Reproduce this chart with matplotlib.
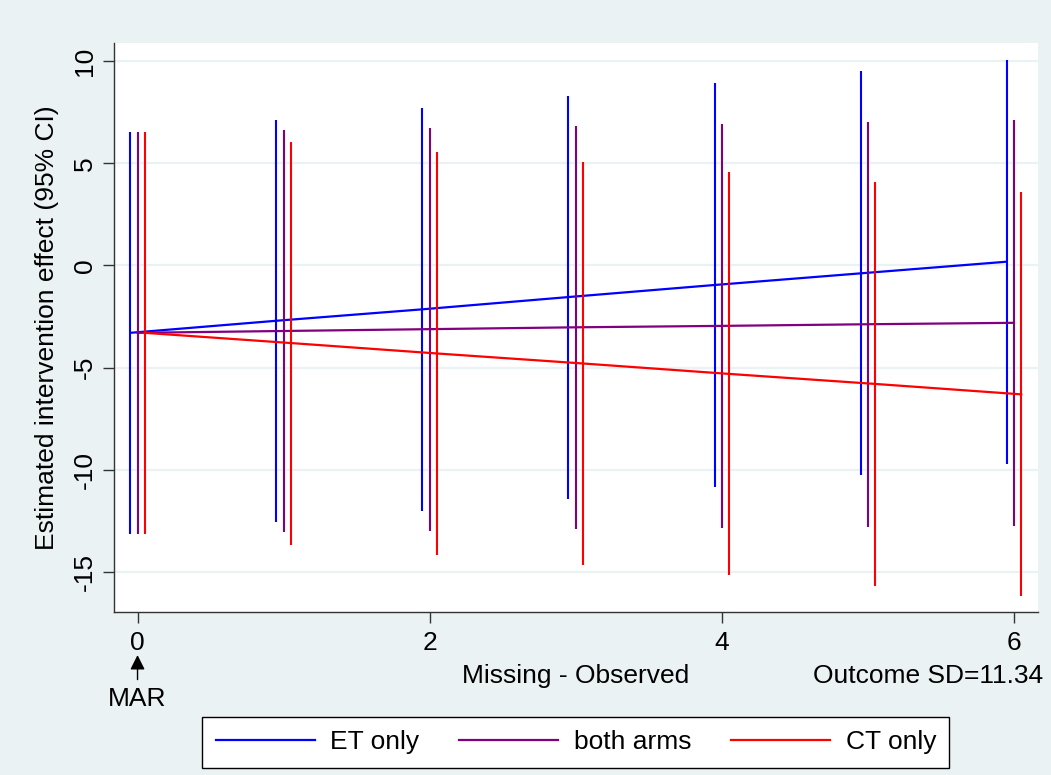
import numpy as np
import matplotlib.pyplot as plt

plt.rcParams['font.family'] = ['Liberation Sans', 'DejaVu Sans']

# difference missing - observed
delta = np.array([0, 1, 2, 3, 4, 5, 6])

# estimates and 95% CI per scenario
et_est = np.array([-3.30, -2.71, -2.15, -1.55, -0.96, -0.39, 0.18])
et_lo = np.array([-13.16, -12.55, -12.00, -11.41, -10.82, -10.27, -9.70])
et_hi = np.array([6.55, 7.13, 7.70, 8.30, 8.90, 9.49, 10.07])

both_est = np.array([-3.30, -3.21, -3.12, -3.03, -2.96, -2.88, -2.81])
both_lo = np.array([-13.16, -13.06, -12.99, -12.91, -12.85, -12.78, -12.75])
both_hi = np.array([6.55, 6.64, 6.74, 6.84, 6.92, 7.02, 7.12])

ct_est = np.array([-3.30, -3.80, -4.31, -4.80, -5.31, -5.80, -6.31])
ct_lo = np.array([-13.16, -13.66, -14.17, -14.66, -15.17, -15.67, -16.19])
ct_hi = np.array([6.55, 6.06, 5.55, 5.05, 4.55, 4.06, 3.57])

labels = ['ET only', 'both arms', 'CT only']
colors = ['#0000FF', '#800080', '#FF0000']
offsets = [-0.05, 0.0, 0.05]

yticks = [10, 5, 0, -5, -10, -15]
xticks = [0, 2, 4, 6]

bg = '#EAF2F3'
fs = 19

fig = plt.figure(figsize=(10.51, 7.75), dpi=100, facecolor=bg)
ax = fig.add_axes([0.1082, 0.2103, 0.8792, 0.7342])
ax.set_facecolor('white')

series = [(et_est, et_lo, et_hi), (both_est, both_lo, both_hi), (ct_est, ct_lo, ct_hi)]
for (est, lo, hi), c, off, lab in zip(series, colors, offsets, labels):
    xs = delta + off
    ax.vlines(xs, lo, hi, color=c, lw=1.5, zorder=3)
    ax.plot(xs, est, color=c, lw=1.6, label=lab, zorder=3)

ax.set_xlim(-0.163, 6.163)
ax.set_ylim(-16.96, 10.88)
ax.set_yticks(yticks)
ax.set_yticklabels([str(v) for v in yticks], rotation=90, va='center', fontsize=fs)
ax.set_xticks(xticks)
ax.set_xticklabels([str(v) for v in xticks], fontsize=fs)
ax.tick_params(axis='both', length=8, width=1, color='#333333', direction='out')
ax.tick_params(axis='y', pad=4)
ax.tick_params(axis='x', pad=6)
ax.grid(axis='y', color=bg, lw=1.6, zorder=0)

for s in ['top', 'right']:
    ax.spines[s].set_visible(False)
for s in ['left', 'bottom']:
    ax.spines[s].set_color('#333333')
    ax.spines[s].set_linewidth(1.0)

ax.set_ylabel('Estimated intervention effect (95% CI)', fontsize=fs, labelpad=10)
fig.text(0.548, 0.128, 'Missing - Observed', ha='center', va='center', fontsize=fs)
fig.text(0.9924, 0.128, 'Outcome SD=11.34', ha='right', va='center', fontsize=fs)

ax.annotate('MAR', xy=(0, -0.0756), xycoords=('data', 'axes fraction'),
            xytext=(0, -0.152), textcoords=('data', 'axes fraction'),
            ha='center', va='center', fontsize=fs, annotation_clip=False,
            arrowprops=dict(arrowstyle='-|>', color='black', lw=1.0,
                            mutation_scale=22, shrinkA=3, shrinkB=0))

leg = fig.legend(loc='center', bbox_to_anchor=(0.548, 0.042), ncol=3, fontsize=fs,
                 frameon=True, fancybox=False, handlelength=3.75, handletextpad=0.6,
                 columnspacing=1.5, borderpad=0.5)
leg.get_frame().set_edgecolor('black')
leg.get_frame().set_linewidth(1.0)
leg.get_frame().set_facecolor('white')
leg.get_frame().set_alpha(1)

fig.savefig('out.png', dpi=100, facecolor=bg)
